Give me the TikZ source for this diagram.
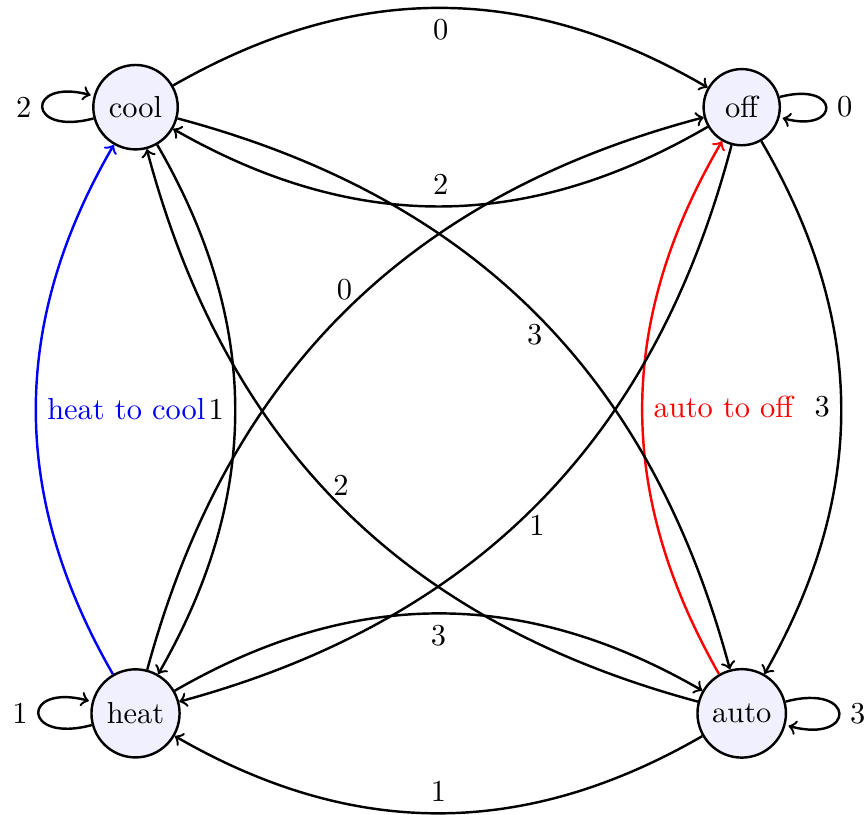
\documentclass[tikz,border=0pt]{standalone}
\usepackage{tikz}
\usetikzlibrary{arrows}

\begin{document}
\begin{tikzpicture}[
  mode/.style={circle,draw,thick,fill=blue!6,minimum size=0.88cm},
  tr/.style={->,thick,bend left},
  selfloop/.style={->,thick},
  lbl/.style={auto=right}
]
\useasboundingbox (-1.565,-1.163) rectangle (8.447,8.238);

\node[mode] (cool) at (0,7) {cool};
\node[mode] (off)  at (7,7) {off};
\node[mode] (heat) at (0,0) {heat};
\node[mode] (auto) at (7,0) {auto};

% self loops
\path[selfloop] (cool) edge[loop left]  node[left]  {2} ()
                (off)  edge[loop right] node[right] {0} ()
                (heat) edge[loop left]  node[left]  {1} ()
                (auto) edge[loop right] node[right] {3} ();

% top and bottom
\draw[tr] (cool) to node[lbl] {0} (off);
\draw[tr] (off)  to node[lbl] {2} (cool);
\draw[tr] (heat) to node[lbl] {3} (auto);
\draw[tr] (auto) to node[lbl] {1} (heat);

% left and right
\draw[tr] (cool) to node[lbl] {1} (heat);
\draw[tr,blue] (heat) to node[lbl] {heat to cool} (cool);
\draw[tr] (off)  to node[lbl] {3} (auto);
\draw[tr,red] (auto) to node[lbl] {auto to off} (off);

% diagonals
\draw[tr] (cool) to node[below] {3} (auto);
\draw[tr] (auto) to node[above] {2} (cool);
\draw[tr] (heat) to node[above] {0} (off);
\draw[tr] (off)  to node[below] {1} (heat);
\end{tikzpicture}
\end{document}
